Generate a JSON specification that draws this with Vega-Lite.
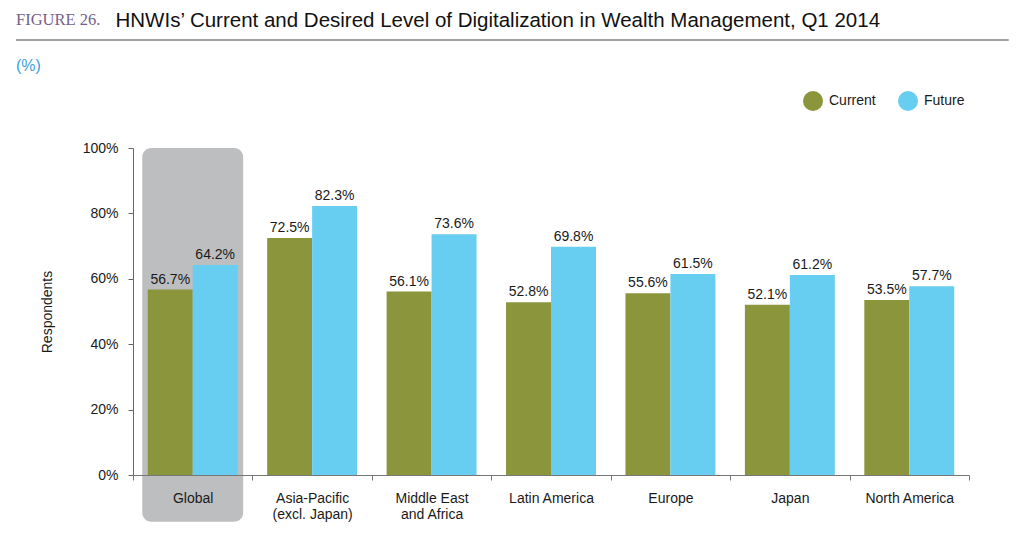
{
  "$schema": "https://vega.github.io/schema/vega-lite/v6.json",
  "width": 836,
  "height": 327,
  "autosize": {"type": "none"},
  "padding": {"left": 133, "top": 148, "right": 55, "bottom": 63},
  "background": "white",
  "config": {
    "font": "Liberation Sans",
    "view": {"stroke": null},
    "axis": {"labelFont": "Liberation Sans", "titleFont": "Liberation Sans", "grid": false},
    "legend": {"labelFont": "Liberation Sans"}
  },
  "title": {
    "text": "FIGURE 26.",
    "subtitle": "(%)",
    "anchor": "start",
    "frame": "group",
    "dx": -117,
    "dy": 64,
    "offset": 0,
    "font": "Liberation Serif",
    "fontSize": 16.5,
    "fontWeight": "normal",
    "color": "#74628a",
    "subtitleFont": "Liberation Sans",
    "subtitleFontSize": 16,
    "subtitleColor": "#3e9fd8",
    "subtitlePadding": 30
  },
  "data": {
    "values": [
      {"region": "Global", "series": "Current", "value": 0.567},
      {"region": "Global", "series": "Future", "value": 0.642},
      {"region": "Asia-Pacific (excl. Japan)", "series": "Current", "value": 0.725},
      {"region": "Asia-Pacific (excl. Japan)", "series": "Future", "value": 0.823},
      {"region": "Middle East and Africa", "series": "Current", "value": 0.561},
      {"region": "Middle East and Africa", "series": "Future", "value": 0.736},
      {"region": "Latin America", "series": "Current", "value": 0.528},
      {"region": "Latin America", "series": "Future", "value": 0.698},
      {"region": "Europe", "series": "Current", "value": 0.556},
      {"region": "Europe", "series": "Future", "value": 0.615},
      {"region": "Japan", "series": "Current", "value": 0.521},
      {"region": "Japan", "series": "Future", "value": 0.612},
      {"region": "North America", "series": "Current", "value": 0.535},
      {"region": "North America", "series": "Future", "value": 0.577}
    ]
  },
  "layer": [
    {
      "encoding": {
        "x": {
          "field": "region",
          "type": "nominal",
          "sort": ["Global", "Asia-Pacific (excl. Japan)", "Middle East and Africa", "Latin America", "Europe", "Japan", "North America"],
          "scale": {"paddingInner": 0, "paddingOuter": 0},
          "axis": {
            "title": null,
            "orient": "bottom",
            "zindex": 1,
            "labelAngle": 0,
            "tickBand": "extent",
            "tickSize": 5,
            "tickColor": "#777777",
            "domainColor": "#777777",
            "labelFontSize": 14,
            "labelColor": "#1a1a1a",
            "labelPadding": 11,
            "labelLineHeight": 16.5,
            "labelExpr": "datum.label == 'Asia-Pacific (excl. Japan)' ? ['Asia-Pacific', '(excl. Japan)'] : datum.label == 'Middle East and Africa' ? ['Middle East', 'and Africa'] : datum.label"
          }
        }
      },
      "layer": [
        {
          "data": {"values": [{"region": "Global"}]},
          "mark": {"type": "bar", "color": "#bdbec0", "cornerRadius": 9, "width": {"band": 0.845}},
          "encoding": {
            "y": {"datum": 1, "type": "quantitative", "scale": {"domain": [0, 1]}, "title": "Respondents"},
            "y2": {"datum": -0.143}
          }
        },
        {
          "mark": {"type": "bar"},
          "encoding": {
            "xOffset": {"field": "series", "type": "nominal", "scale": {"paddingInner": 0, "paddingOuter": 0.328}},
            "y": {
              "field": "value",
              "type": "quantitative",
              "scale": {"domain": [0, 1]},
              "title": "Respondents",
              "axis": {
                "values": [0, 0.2, 0.4, 0.6, 0.8, 1],
                "format": ".0%",
                "tickSize": 5,
                "tickColor": "#666666",
                "domainColor": "#666666",
                "labelPadding": 10,
                "labelFontSize": 14,
                "labelColor": "#1a1a1a",
                "titleFontSize": 14,
                "titleFontWeight": "normal",
                "titleColor": "#1a1a1a",
                "titlePadding": 28
              }
            },
            "color": {
              "field": "series",
              "type": "nominal",
              "scale": {"domain": ["Current", "Future"], "range": ["#8a953c", "#67cdf1"]},
              "legend": {
                "title": null,
                "orient": "none",
                "legendX": 670,
                "legendY": -57,
                "direction": "horizontal",
                "symbolType": "circle",
                "symbolSize": 400,
                "symbolStrokeWidth": 0,
                "symbolOpacity": 1,
                "labelFontSize": 14,
                "labelColor": "#1a1a1a",
                "labelOffset": 6,
                "columnPadding": 22
              }
            }
          }
        },
        {
          "mark": {"type": "text", "baseline": "alphabetic", "dy": -6, "fontSize": 14, "color": "#1a1a1a"},
          "encoding": {
            "xOffset": {"field": "series", "type": "nominal", "scale": {"paddingInner": 0, "paddingOuter": 0.328}},
            "y": {"field": "value", "type": "quantitative", "scale": {"domain": [0, 1]}, "title": "Respondents"},
            "text": {"field": "value", "type": "quantitative", "format": ".1%"}
          }
        }
      ]
    },
    {
      "data": {"values": [{}]},
      "mark": {"type": "rule", "color": "#808080", "strokeWidth": 1.5},
      "encoding": {
        "x": {
          "datum": -0.14,
          "type": "quantitative",
          "scale": {"domain": [0, 1]},
          "axis": {
            "orient": "top",
            "title": "HNWIs’ Current and Desired Level of Digitalization in Wealth Management, Q1 2014",
            "domain": false,
            "ticks": false,
            "labels": false,
            "grid": false,
            "titleX": -18,
            "titleY": -122,
            "titleAlign": "left",
            "titleBaseline": "alphabetic",
            "titleFontSize": 20.5,
            "titleFontWeight": "normal",
            "titleColor": "#111111"
          }
        },
        "x2": {"datum": 1.0475},
        "y": {"datum": 1.33, "type": "quantitative", "scale": {"domain": [0, 1]}}
      }
    }
  ],
  "resolve": {"scale": {"x": "independent"}, "axis": {"x": "independent"}}
}
